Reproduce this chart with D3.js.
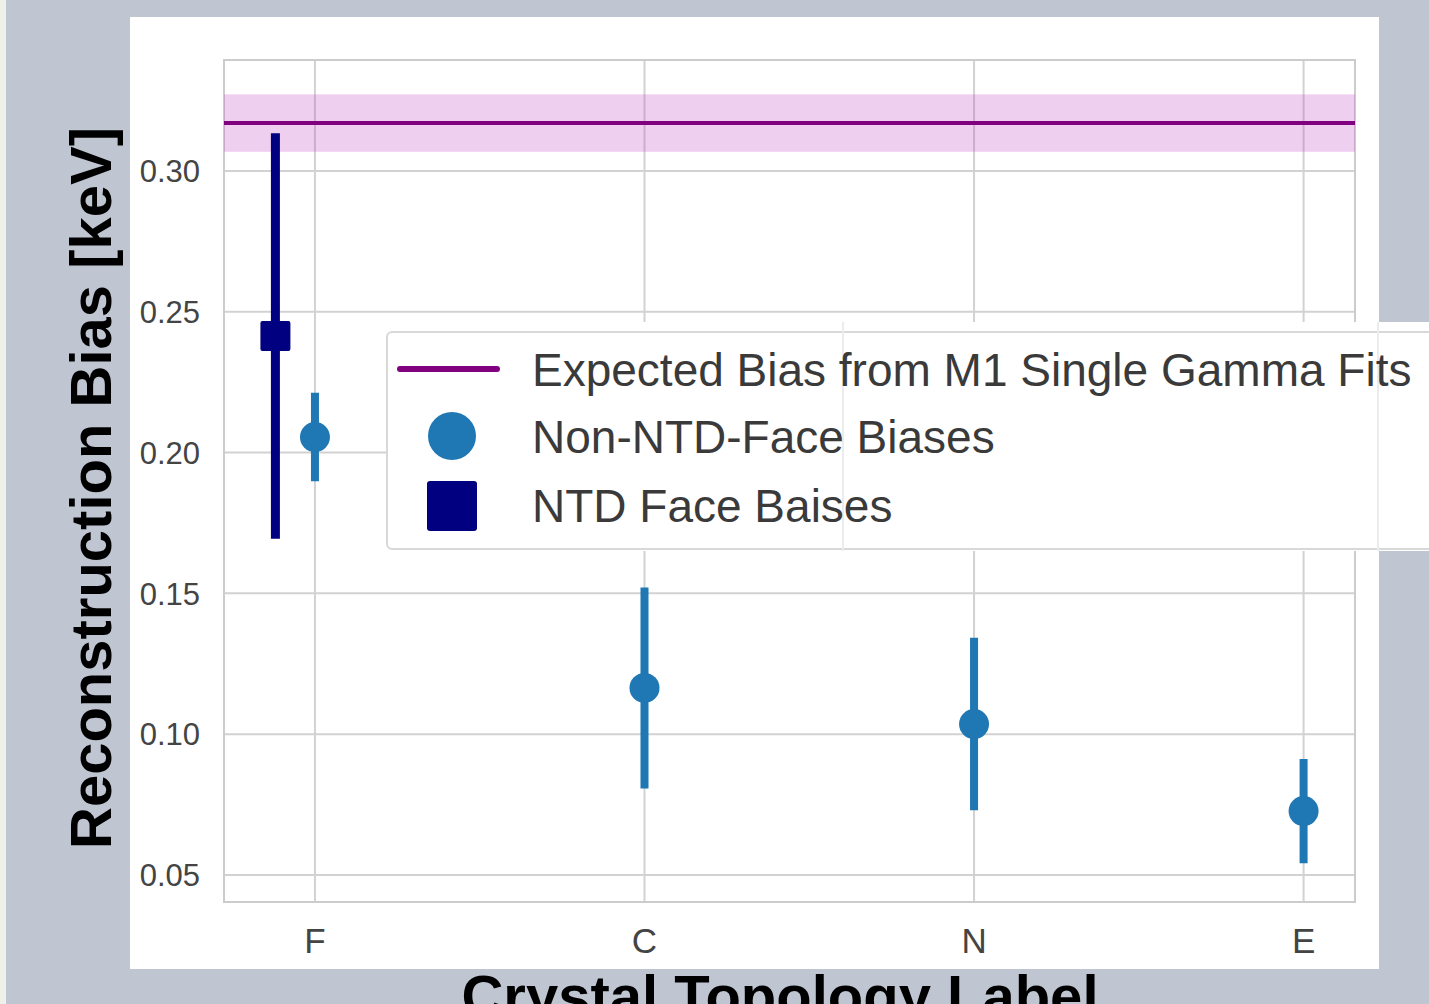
<!DOCTYPE html>
<html><head><meta charset="utf-8">
<script src="https://cdn.jsdelivr.net/npm/d3@7"></script>
<style>html,body{margin:0;padding:0;background:#bfc6d2;overflow:hidden}</style>
</head><body>
<script>
const categories = ["F","C","N","E"];
const categoryPos = [0,1,2,3];
const nonNtdValues = [0.2055,0.1164,0.1036,0.0727];
const nonNtdErrors = [0.0157,0.0357,0.0306,0.0185];
const ntdPos = [-0.12];
const ntdValues = [0.2414];
const ntdErrors = [0.072];
const expectedBias = 0.317;
const expectedBiasErr = 0.0102;
const yTicks = [0.05,0.10,0.15,0.20,0.25,0.30];
const legendLabels = ["Expected Bias from M1 Single Gamma Fits","Non-NTD-Face Biases","NTD Face Baises"];

const W=1429,H=1004;
const svg=d3.select("body").append("svg").attr("width",W).attr("height",H);
const font="'Liberation Sans', Arial, Helvetica, sans-serif";

svg.append("rect").attr("x",0).attr("y",0).attr("width",W).attr("height",H).attr("fill","#bfc6d2");
svg.append("rect").attr("x",0).attr("y",0).attr("width",6).attr("height",H).attr("fill","#eef0ea");
svg.append("rect").attr("x",130).attr("y",17).attr("width",1249).attr("height",952).attr("fill","#ffffff");

const pl=224,pr=1355,pt=60,pb=902;
const x=d3.scaleLinear().domain([-0.276,3.156]).range([pl,pr]);
const y=d3.scaleLinear().domain([0.0404,0.3394]).range([pb,pt]);

const g=svg.append("g");
g.selectAll(".gy").data(yTicks).enter().append("line")
 .attr("x1",pl).attr("x2",pr).attr("y1",d=>y(d)).attr("y2",d=>y(d))
 .attr("stroke","#d2d2d2").attr("stroke-width",2);
g.selectAll(".gx").data(categoryPos).enter().append("line")
 .attr("y1",pt).attr("y2",pb).attr("x1",d=>x(d)).attr("x2",d=>x(d))
 .attr("stroke","#d2d2d2").attr("stroke-width",2);
g.append("rect").attr("x",pl).attr("y",pt).attr("width",pr-pl).attr("height",pb-pt)
 .attr("fill","none").attr("stroke","#cccccc").attr("stroke-width",2);

g.append("rect").attr("x",pl).attr("width",pr-pl)
 .attr("y",y(expectedBias+expectedBiasErr)).attr("height",y(expectedBias-expectedBiasErr)-y(expectedBias+expectedBiasErr))
 .attr("fill","#bf3fbf").attr("fill-opacity",0.25);
g.append("line").attr("x1",pl).attr("x2",pr).attr("y1",y(expectedBias)).attr("y2",y(expectedBias))
 .attr("stroke","#800080").attr("stroke-width",4);

const nonData=categoryPos.map((p,i)=>({p,v:nonNtdValues[i],e:nonNtdErrors[i]}));
g.selectAll(".eb").data(nonData).enter().append("line")
 .attr("x1",d=>x(d.p)).attr("x2",d=>x(d.p)).attr("y1",d=>y(d.v+d.e)).attr("y2",d=>y(d.v-d.e))
 .attr("stroke","#1f77b4").attr("stroke-width",8);
g.selectAll(".pt").data(nonData).enter().append("circle")
 .attr("cx",d=>x(d.p)).attr("cy",d=>y(d.v)).attr("r",15).attr("fill","#1f77b4");

const ntdData=ntdPos.map((p,i)=>({p,v:ntdValues[i],e:ntdErrors[i]}));
g.selectAll(".eb2").data(ntdData).enter().append("line")
 .attr("x1",d=>x(d.p)).attr("x2",d=>x(d.p)).attr("y1",d=>y(d.v+d.e)).attr("y2",d=>y(d.v-d.e))
 .attr("stroke","#000080").attr("stroke-width",9);
g.selectAll(".sq").data(ntdData).enter().append("rect")
 .attr("x",d=>x(d.p)-15).attr("y",d=>y(d.v)-15).attr("width",30).attr("height",30).attr("rx",2)
 .attr("fill","#000080");

g.selectAll(".yt").data(yTicks).enter().append("text")
 .attr("x",200).attr("y",d=>y(d)).attr("dy","0.36em").attr("text-anchor","end")
 .attr("font-family",font).attr("font-size",31).attr("fill","#444")
 .text(d=>d.toFixed(2));
g.selectAll(".xt").data(categories).enter().append("text")
 .attr("x",(d,i)=>x(categoryPos[i])).attr("y",953).attr("text-anchor","middle")
 .attr("font-family",font).attr("font-size",35).attr("fill","#444")
 .text(d=>d);

svg.append("text").attr("transform","translate(111,488) rotate(-90)").attr("text-anchor","middle")
 .attr("font-family",font).attr("font-weight","bold").attr("font-size",58).attr("fill","#000")
 .text("Reconstruction Bias [keV]");
svg.append("text").attr("x",780).attr("y",1016).attr("text-anchor","middle")
 .attr("font-family",font).attr("font-weight","bold").attr("font-size",58).attr("fill","#000")
 .text("Crystal Topology Label");

const lg=svg.append("g");
lg.append("rect").attr("x",386).attr("y",322).attr("width",W-386).attr("height",229).attr("fill","#fff");
lg.append("rect").attr("x",387).attr("y",332).attr("width",W-387+10).attr("height",217).attr("rx",5)
 .attr("fill","#fff").attr("stroke","#d8d8d8").attr("stroke-width",2);
lg.append("line").attr("x1",843).attr("x2",843).attr("y1",322).attr("y2",551).attr("stroke","#ececec").attr("stroke-width",2);
lg.append("line").attr("x1",1378).attr("x2",1378).attr("y1",322).attr("y2",551).attr("stroke","#ececec").attr("stroke-width",2);
const rowY=[369,436,505];
lg.append("line").attr("x1",400).attr("x2",497).attr("y1",rowY[0]).attr("y2",rowY[0]).attr("stroke","#800080").attr("stroke-width",6).attr("stroke-linecap","round");
lg.append("circle").attr("cx",452).attr("cy",rowY[1]).attr("r",24).attr("fill","#1f77b4");
lg.append("rect").attr("x",427).attr("y",rowY[2]-24).attr("width",50).attr("height",50).attr("rx",3).attr("fill","#000080");
lg.selectAll(".lt").data(legendLabels).enter().append("text")
 .attr("x",532).attr("y",(d,i)=>rowY[i]).attr("dy","0.36em")
 .attr("font-family",font).attr("font-size",46).attr("fill","#3a3a3a")
 .text(d=>d);
</script>
</body></html>
